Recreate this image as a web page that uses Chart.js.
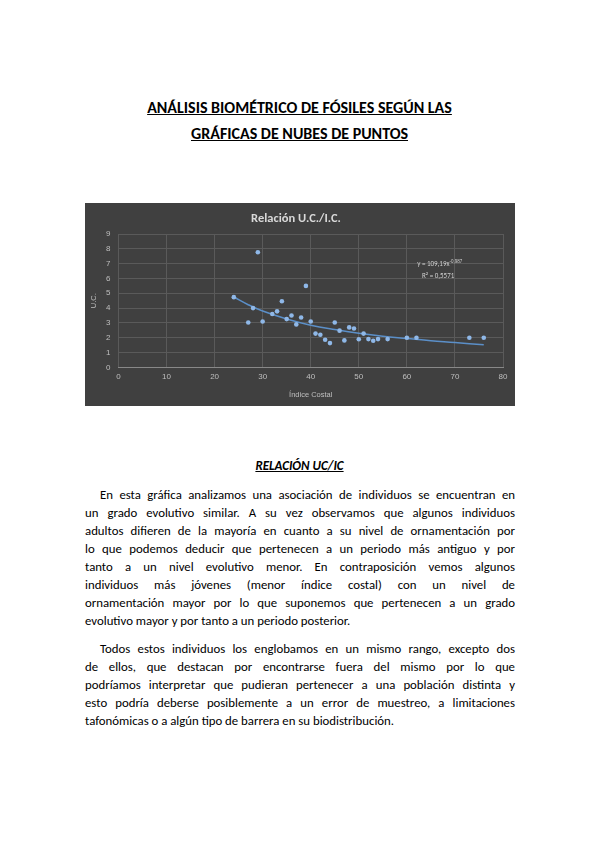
<!DOCTYPE html><html><head><meta charset="utf-8">
<script src="https://cdn.jsdelivr.net/npm/chart.js@4"></script>
<style>
body{margin:0;background:#fff;font-family:Carlito,"Open Sans",sans-serif;color:#000;width:599px;height:848px;position:relative;overflow:hidden}
.t{position:absolute;left:0;width:599px;text-align:center;font-weight:bold;text-decoration:underline;font-size:16px}
.l{position:absolute;left:85px;width:430px;font-size:12.8px;text-align:justify;text-align-last:justify;white-space:nowrap;word-spacing:0}
.e{text-align-last:left}
#box{position:absolute;left:85px;top:203px;width:430px;height:203px;background:#404040}
</style></head><body>
<div class="t" style="top:98px">ANÁLISIS BIOMÉTRICO DE FÓSILES SEGÚN LAS</div>
<div class="t" style="top:124px">GRÁFICAS DE NUBES DE PUNTOS</div>
<div id="box"><canvas id="c" width="430" height="203"></canvas></div>
<div class="t" style="top:458px;font-size:13px;font-style:italic">RELACIÓN UC/IC</div>
<div id="txt"></div>
<script>
const xs=[24,27,28,29,30,32,33,34,35,36,37,38,39,40,41,42,43,44,45,46,47,48,49,50,51,52,53,54,56,60,62,73,76];
const ys=[4.74,3.03,4.0,7.77,3.1,3.6,3.78,4.46,3.26,3.5,2.9,3.37,5.5,3.1,2.28,2.2,1.87,1.64,3.03,2.48,1.82,2.7,2.62,1.9,2.28,1.91,1.8,1.91,1.91,2.0,2.0,2.0,2.0];
const trendX=[24,27,30,35,40,45,50,55,60,65,70,76];
const trendY=[4.75,4.23,3.8,3.27,2.85,2.55,2.3,2.1,1.95,1.8,1.68,1.52];
const xTicks=[0,10,20,30,40,50,60,70,80];
const lines=[
["En esta gráfica analizamos una asociación de individuos se encuentran en",0],
["un grado evolutivo similar. A su vez observamos que algunos individuos",0],
["adultos difieren de la mayoría en cuanto a su nivel de ornamentación por",0],
["lo que podemos deducir que pertenecen a un periodo más antiguo y por",0],
["tanto a un nivel evolutivo menor. En contraposición vemos algunos",0],
["individuos más jóvenes (menor índice costal) con un nivel de",0],
["ornamentación mayor por lo que suponemos que pertenecen a un grado",0],
["evolutivo mayor y por tanto a un periodo posterior.",1],
["Todos estos individuos los englobamos en un mismo rango, excepto dos",0],
["de ellos, que destacan por encontrarse fuera del mismo por lo que",0],
["podríamos interpretar que pudieran pertenecer a una población distinta y",0],
["esto podría deberse posiblemente a un error de muestreo, a limitaciones",0],
["tafonómicas o a algún tipo de barrera en su biodistribución.",1]];
const tops=[487,505,523,541,559,577,595,613,641,659,677,695,713];
let h='';lines.forEach((l,i)=>{const ind=(i==0||i==8);h+=`<div class="l${l[1]?' e':''}" style="top:${tops[i]}px;${ind?'left:100px;width:415px':''}">${l[0]}</div>`});
document.getElementById('txt').innerHTML=h;
const grid='#5a5a5a',tc='#bfbfbf';
new Chart(document.getElementById('c'),{type:'scatter',data:{datasets:[
{data:xs.map((x,i)=>({x,y:ys[i]})),backgroundColor:'#8fb8e8',borderColor:'#5b9bd5',pointRadius:2.3,borderWidth:0},
{type:'line',data:trendX.map((x,i)=>({x,y:trendY[i]})),borderColor:'#5b8fc8',borderWidth:1.5,pointRadius:0,tension:0.4,fill:false}]},
options:{responsive:false,animation:false,devicePixelRatio:1,
layout:{padding:{left:4,right:12,top:0,bottom:4}},
plugins:{legend:{display:false},tooltip:{enabled:false},title:{display:true,text:'Relación U.C./I.C.',color:'#d9d9d9',font:{size:12.5,family:'Carlito, Open Sans'},padding:{top:8,bottom:8}}},
scales:{x:{type:'linear',min:0,max:80,afterBuildTicks:a=>{a.ticks=xTicks.map(v=>({value:v}))},grid:{color:grid,drawTicks:false},border:{color:'#888'},ticks:{color:tc,font:{size:8},padding:5,autoSkip:false},title:{display:true,text:'Índice Costal',color:tc,font:{size:7.5},padding:3}},
y:{min:0,max:9,ticks:{stepSize:1,color:tc,font:{size:8},padding:8,autoSkip:false},grid:{color:grid,drawTicks:false},border:{display:false},title:{display:true,text:'U.C.',color:tc,font:{size:7.5},padding:0}}}},
plugins:[{id:'eq',afterDraw(c){const x=c.scales.x,y=c.scales.y,g=c.ctx;g.save();g.fillStyle='#d0d0d0';g.font='7px Carlito, Open Sans';g.textAlign='center';
g.fillText('y = 109,19x',x.getPixelForValue(65.5),y.getPixelForValue(6.85));g.font='4.5px sans-serif';g.fillText('-0,987',x.getPixelForValue(70.2),y.getPixelForValue(7.05));
g.font='7px Carlito, Open Sans';g.fillText('R² = 0,5571',x.getPixelForValue(66.5),y.getPixelForValue(6.0));g.restore();}}]});
</script>
</body></html>
